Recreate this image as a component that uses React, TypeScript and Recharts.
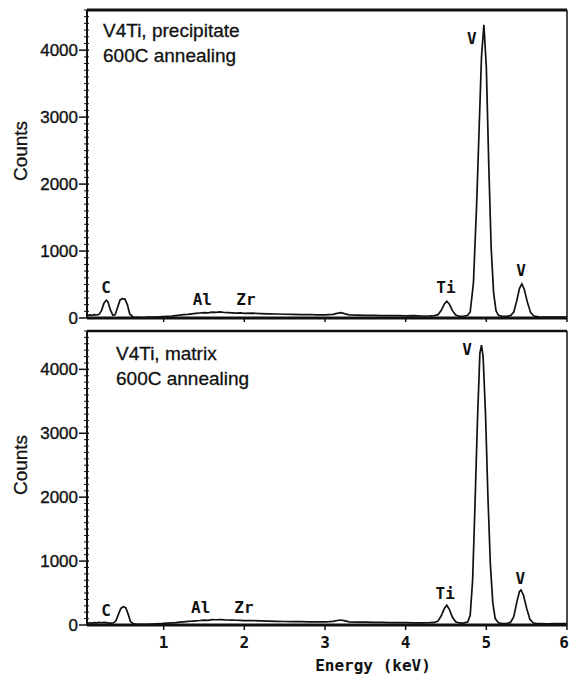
import React from "react";
import { LineChart, Line, XAxis, YAxis, ReferenceLine, ReferenceDot } from "recharts";

// ---- Data ----
const energyTop = [0.05,0.08,0.11,0.14,0.17,0.20,0.23,0.26,0.29,0.31,0.34,0.37,0.40,0.43,0.46,0.49,0.52,0.55,0.58,0.62,0.66,0.70,0.75,0.80,0.85,0.90,0.95,1.00,1.05,1.10,1.15,1.20,1.25,1.30,1.35,1.40,1.45,1.50,1.55,1.60,1.65,1.70,1.75,1.80,1.85,1.90,1.95,2.00,2.10,2.20,2.30,2.40,2.50,2.60,2.70,2.80,2.90,3.00,3.05,3.10,3.15,3.20,3.25,3.30,3.40,3.50,3.60,3.70,3.80,3.90,4.00,4.10,4.20,4.30,4.36,4.40,4.44,4.48,4.51,4.54,4.58,4.62,4.66,4.72,4.77,4.80,4.84,4.88,4.91,4.94,4.97,5.00,5.03,5.06,5.09,5.12,5.15,5.20,5.26,5.30,5.34,5.38,5.41,5.44,5.47,5.51,5.55,5.59,5.65,5.72,5.80,5.90,6.00];
const countsTop = [30,45,40,50,45,55,110,220,265,240,120,40,50,160,270,290,285,200,60,15,8,10,6,12,15,14,18,22,26,30,36,42,50,55,62,70,75,80,78,88,85,90,82,80,78,74,76,70,72,66,62,60,56,54,50,52,48,46,50,55,70,80,62,48,44,40,38,36,36,34,32,34,30,32,36,50,110,210,250,210,110,45,28,26,40,90,520,1700,2800,3900,4380,3750,2300,1050,380,110,40,24,28,35,90,270,440,510,430,230,80,30,18,15,14,12,12];

const energyBottom = [0.05,0.08,0.11,0.14,0.17,0.20,0.23,0.26,0.29,0.32,0.35,0.38,0.41,0.44,0.47,0.50,0.53,0.56,0.59,0.63,0.67,0.72,0.78,0.85,0.90,0.95,1.00,1.05,1.10,1.15,1.20,1.25,1.30,1.35,1.40,1.45,1.50,1.55,1.60,1.65,1.70,1.75,1.80,1.85,1.90,1.95,2.00,2.10,2.20,2.30,2.40,2.50,2.60,2.70,2.80,2.90,3.00,3.05,3.10,3.15,3.20,3.25,3.30,3.40,3.50,3.60,3.70,3.80,3.90,4.00,4.10,4.20,4.30,4.36,4.40,4.44,4.48,4.51,4.54,4.58,4.62,4.66,4.72,4.77,4.80,4.83,4.86,4.89,4.92,4.94,4.96,4.99,5.02,5.05,5.08,5.11,5.15,5.20,5.26,5.30,5.34,5.38,5.41,5.43,5.46,5.50,5.54,5.58,5.62,5.68,5.75,5.85,6.00];
const countsBottom = [25,35,30,38,32,40,35,42,38,30,28,35,70,170,260,285,270,170,50,18,12,10,12,15,18,20,26,30,34,38,44,50,56,60,66,70,76,72,85,82,86,80,78,76,74,72,70,68,64,60,58,55,54,52,50,48,48,52,58,70,78,64,50,46,44,40,40,38,36,36,34,34,36,40,60,140,260,310,250,120,50,32,30,50,150,700,1900,3200,4250,4380,4200,3300,2000,950,350,100,35,22,26,40,130,370,520,548,470,260,90,35,22,20,18,20,20];

const xTicks = [1, 2, 3, 4, 5, 6];
const yMajorTicks = [0, 1000, 2000, 3000, 4000];
const yMaxCounts = 4600;
const yMinorStep = 100;

const peakLabelsTop = [
  { t: "C", e: 0.286, c: 463 },
  { t: "Al", e: 1.48, c: 284 },
  { t: "Zr", e: 2.02, c: 284 },
  { t: "Ti", e: 4.5, c: 463 },
  { t: "V", e: 4.82, c: 4182 },
  { t: "V", e: 5.43, c: 717 },
];
const peakLabelsBottom = [
  { t: "C", e: 0.286, c: 235 },
  { t: "Al", e: 1.46, c: 282 },
  { t: "Zr", e: 1.996, c: 282 },
  { t: "Ti", e: 4.49, c: 500 },
  { t: "V", e: 4.76, c: 4319 },
  { t: "V", e: 5.42, c: 735 },
];

const titleTop = ["V4Ti, precipitate", "600C annealing"];
const titleBottom = ["V4Ti, matrix", "600C annealing"];

const dataTop = energyTop.map((e, i) => ({ e, c: countsTop[i] }));
const dataBottom = energyBottom.map((e, i) => ({ e, c: countsBottom[i] }));
const yAllTicks = Array.from({ length: yMaxCounts / yMinorStep + 1 }, (_, i) => i * yMinorStep);

const SANS = "'Liberation Sans', Arial, sans-serif";
const MONO = "'DejaVu Sans Mono', 'Liberation Mono', monospace";
const INK = "#111";

const YTick = (props: any) => {
  const { x, y, payload } = props;
  const major = yMajorTicks.includes(payload.value);
  if (major) {
    return (
      <g>
        <line x1={x - 8} x2={x + 2} y1={y} y2={y} stroke={INK} strokeWidth={1.5} />
        <text x={x - 9} y={y} textAnchor="end" dominantBaseline="central" fontFamily={SANS} fontSize={17} fill={INK} stroke={INK} strokeWidth={0.35}>
          {payload.value}
        </text>
      </g>
    );
  }
  return <line x1={x - 3} x2={x + 2} y1={y} y2={y} stroke={INK} strokeWidth={1} />;
};

const XTick = (props: any) => {
  const { x, y, payload } = props;
  const shift = payload.value === 6 ? -3 : 0;
  return (
    <text x={x + shift} y={y} dy="0.75em" textAnchor="middle" fontFamily={MONO} fontWeight="bold" fontSize={16} fill={INK}>
      {payload.value}
    </text>
  );
};

const countsLabel = (offsetY: number) => (p: any) => {
  const vb = p.viewBox;
  const cx = 20;
  const cy = vb.y + vb.height / 2 - offsetY;
  return (
    <text x={cx} y={cy} transform={`rotate(-90 ${cx} ${cy})`} textAnchor="middle" dominantBaseline="central" fontFamily={SANS} fontSize={19} fill={INK} stroke={INK} strokeWidth={0.3}>
      Counts
    </text>
  );
};

const energyLabel = (p: any) => {
  const vb = p.viewBox;
  return (
    <text x={vb.x + vb.width / 2 + 46} y={vb.y + 46} textAnchor="middle" fontFamily={MONO} fontWeight="bold" fontSize={16} fill={INK}>
      Energy (keV)
    </text>
  );
};

const peakDots = (labels: { t: string; e: number; c: number }[]) =>
  labels.map((l, i) => (
    <ReferenceDot
      key={i}
      x={l.e}
      y={l.c}
      r={0}
      fill="none"
      stroke="none"
      ifOverflow="visible"
      label={{ value: l.t, position: "center", fill: INK, fontSize: 16, fontFamily: MONO, fontWeight: "bold" }}
    />
  ));

const Title = ({ lines, left, top }: { lines: string[]; left: number; top: number }) => (
  <div
    style={{
      position: "absolute",
      left,
      top,
      fontFamily: SANS,
      fontSize: 19,
      lineHeight: "25px",
      color: INK,
      whiteSpace: "nowrap",
      WebkitTextStroke: "0.3px #111",
    }}
  >
    {lines.map((l, i) => (
      <div key={i}>{l}</div>
    ))}
  </div>
);

export default function App() {
  return (
    <div style={{ position: "absolute", left: 0, top: 0, width: 570, height: 679, background: "#fff", overflow: "hidden" }}>
      <div style={{ position: "absolute", left: 0, top: 0 }}>
        <LineChart width={570} height={330} data={dataTop} margin={{ top: 10, right: 3, left: 0, bottom: 0 }}>
          <XAxis
            dataKey="e"
            type="number"
            domain={[0.05, 6]}
            ticks={xTicks}
            interval={0}
            height={12}
            tickFormatter={() => ""}
            tickSize={4}
            tickLine={{ stroke: INK, strokeWidth: 1.5 }}
            axisLine={{ stroke: INK, strokeWidth: 3 }}
            allowDataOverflow
          />
          <YAxis
            type="number"
            domain={[0, yMaxCounts]}
            ticks={yAllTicks}
            interval={0}
            width={87}
            tickSize={0}
            tickMargin={0}
            tickLine={false}
            tick={<YTick />}
            axisLine={{ stroke: INK, strokeWidth: 2 }}
            allowDataOverflow
            label={countsLabel(13)}
          />
          <ReferenceLine y={yMaxCounts} stroke={INK} strokeWidth={3} />
          <ReferenceLine x={6} stroke={INK} strokeWidth={1.5} />
          <Line type="linear" dataKey="c" stroke={INK} strokeWidth={1.7} dot={false} isAnimationActive={false} />
          {peakDots(peakLabelsTop)}
        </LineChart>
      </div>
      <Title lines={titleTop} left={103} top={18} />

      <div style={{ position: "absolute", left: 0, top: 321 }}>
        <LineChart width={570} height={358} data={dataBottom} margin={{ top: 10, right: 3, left: 0, bottom: 0 }}>
          <XAxis
            dataKey="e"
            type="number"
            domain={[0.05, 6]}
            ticks={xTicks}
            interval={0}
            height={54}
            tickSize={5}
            tickMargin={6}
            tick={<XTick />}
            tickLine={{ stroke: INK, strokeWidth: 1.5 }}
            axisLine={{ stroke: INK, strokeWidth: 3 }}
            allowDataOverflow
            label={energyLabel}
          />
          <YAxis
            type="number"
            domain={[0, yMaxCounts]}
            ticks={yAllTicks}
            interval={0}
            width={87}
            tickSize={0}
            tickMargin={0}
            tickLine={false}
            tick={<YTick />}
            axisLine={{ stroke: INK, strokeWidth: 2 }}
            allowDataOverflow
            label={countsLabel(13)}
          />
          <ReferenceLine y={yMaxCounts} stroke={INK} strokeWidth={2.5} />
          <ReferenceLine x={6} stroke={INK} strokeWidth={1.5} />
          <Line type="linear" dataKey="c" stroke={INK} strokeWidth={1.7} dot={false} isAnimationActive={false} />
          {peakDots(peakLabelsBottom)}
        </LineChart>
      </div>
      <Title lines={titleBottom} left={116} top={341} />
    </div>
  );
}
